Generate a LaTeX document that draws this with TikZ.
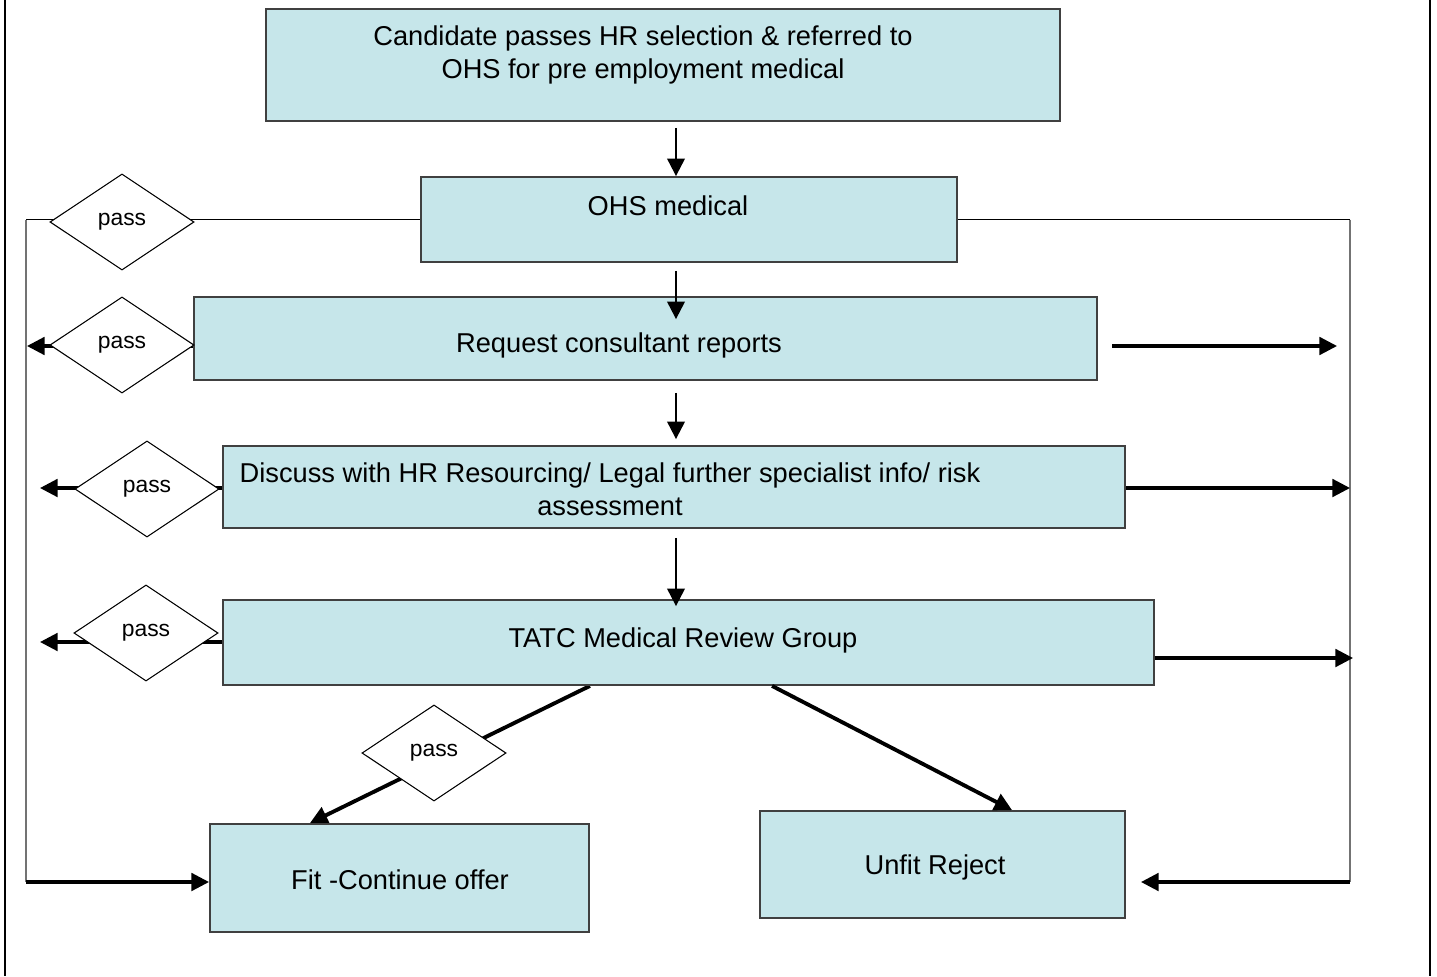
\documentclass[tikz,border=0pt]{standalone}
\usepackage{fontspec}
\setmainfont{Liberation Sans}
\usetikzlibrary{shapes.geometric, arrows.meta, backgrounds}

\definecolor{boxfill}{RGB}{198,230,234}
\tikzset{
  box/.style={draw=black!75, fill=boxfill, line width=0.5pt, inner sep=0pt},
  txt/.style={font=\fontsize{7.75}{9.4}\selectfont, align=center, inner sep=0pt},
  passbox/.style={diamond, draw, fill=white, line width=0.3pt, inner sep=0pt,
    minimum width=1.44cm, minimum height=0.96cm, font=\fontsize{6.5}{7.5}\selectfont},
  arr/.style={line width=0.9pt, -{Triangle[length=5pt,width=5pt]}},
  down/.style={line width=0.6pt, -{Triangle[length=5pt,width=5pt]}},
  loopline/.style={line width=0.4pt, draw=black!55},
}

\begin{document}
\begin{tikzpicture}[x=0.01cm, y=-0.01cm]
	\useasboundingbox (0,0) rectangle (1437,976);

	% frame
	\draw [line width=0.6pt] (5,0) -- (5,976);
	\draw [line width=0.6pt] (1430,0) -- (1430,976);

	% boxes
	\node [box, minimum width=7.94cm, minimum height=1.12cm] (cand) at (663,65) {};
	\node [box, minimum width=5.36cm, minimum height=0.85cm] (ohs) at (689,219.5) {};
	\node [box, minimum width=9.03cm, minimum height=0.83cm] (req) at (645.5,338.5) {};
	\node [box, minimum width=9.02cm, minimum height=0.82cm] (disc) at (674,487) {};
	\node [box, minimum width=9.31cm, minimum height=0.85cm] (tatc) at (688.5,642.5) {};
	\node [box, minimum width=3.79cm, minimum height=1.08cm] (fit) at (399.5,878) {};
	\node [box, minimum width=3.65cm, minimum height=1.07cm] (unfit) at (942.5,864.5) {};

	\node [txt] (candtxt) at (643,55) {Candidate passes HR selection \& referred to\\OHS for pre employment medical};
	\node [txt] (ohstxt) at (668,206) {OHS medical};
	\node [txt] (reqtxt) at (619,345) {Request consultant reports};
	\node [txt] (disctxt) at (610,489) {Discuss with HR Resourcing/ Legal further specialist info/ risk\\assessment};
	\node [txt] (tatctxt) at (683,640) {TATC Medical Review Group};
	\node [txt] (fittxt) at (400,880) {Fit -Continue offer};
	\node [txt] (unfittxt) at (935,867) {Unfit Reject};

	% pass decisions
	\node [passbox] (d1) at (122,222) {pass};
	\node [passbox] (d2) at (122,345) {pass};
	\node [passbox] (d3) at (147,489) {pass};
	\node [passbox] (d4) at (146,633) {pass};
	\node [passbox] (d5) at (434,753) {pass};

	\coordinate (spine) at (676,0);
	\coordinate (lft) at (26,219.5);
	\coordinate (lfb) at (26,882);
	\coordinate (rtt) at (1350,219.5);
	\coordinate (rtb) at (1350,882);
	\coordinate (l2) at (27,346);
	\coordinate (l3) at (40,488);
	\coordinate (l4) at (40,642);
	\coordinate (r2) at (1337,346);
	\coordinate (r3) at (1350,488);
	\coordinate (r4) at (1353,658);

	% lines that run under the diamonds
	\begin{pgfonlayer}{background}
		\draw [line width=0.4pt] (ohs.west) -- (lft);
		\draw [loopline] (lft) -- (lfb);
		\draw [arr] (lfb) -- (fit.west |- lfb);
		\draw [line width=0.4pt] (ohs.east) -- (rtt);
		\draw [loopline] (rtt) -- (rtb);
		\draw [arr, shorten >=0.15cm] (rtb) -- (unfit.east |- rtb);

		\draw [arr] (req.west |- l2) -- (l2);
		\draw [arr] (disc.west |- l3) -- (l3);
		\draw [arr] (tatc.west |- l4) -- (l4);
		\draw [arr, line width=1.1pt] ([xshift=-0.985cm]tatc.south) -- ([xshift=-0.895cm]fit.north);
	\end{pgfonlayer}

	% fail side
	\draw [arr, shorten <=0.14cm] (req.east |- r2) -- (r2);
	\draw [arr] (disc.east |- r3) -- (r3);
	\draw [arr] (tatc.east |- r4) -- (r4);
	\draw [arr, line width=1.1pt] ([xshift=0.835cm]tatc.south) -- ([xshift=0.695cm]unfit.north);

	% main flow
	\draw [down, shorten <=0.06cm] (cand.south -| spine) -- (ohs.north -| spine);
	\draw [down, shorten <=0.08cm, shorten >=-0.23cm] (ohs.south -| spine) -- (req.north -| spine);
	\draw [down, shorten <=0.12cm, shorten >=0.06cm] (req.south -| spine) -- (disc.north -| spine);
	\draw [down, shorten <=0.09cm, shorten >=-0.07cm] (disc.south -| spine) -- (tatc.north -| spine);
\end{tikzpicture}
\end{document}
